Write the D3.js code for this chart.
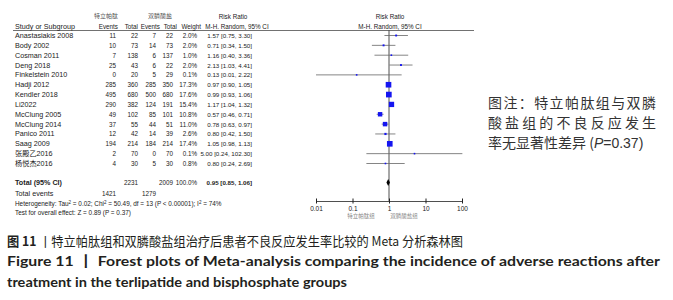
<!DOCTYPE html>
<html lang="zh">
<head>
<meta charset="UTF-8">
<title>Forest plot - adverse reactions</title>
<script src="https://d3js.org/d3.v7.min.js"></script>
<style>
    body { margin: 0; background: #fff; }
    svg { display: block; }
    .tbl { font-family: "Liberation Sans", Arial, "Noto Sans CJK SC", sans-serif; font-size: 6.3px; fill: #222; }
    .name { font-size: 7.2px; }
    .ci { font-size: 6.2px; }
    .small { font-size: 6.4px; }
    .cjk { font-family: "Noto Sans CJK SC", sans-serif; }
</style>
</head>
<body>
<script>
    // study rows
    const studies = ["Anastasiakis 2008", "Body 2002", "Cosman 2011", "Deng 2018", "Finkelstein 2010",
        "Hadji 2012", "Kendler 2018", "Li2022", "McClung 2005", "McClung 2014", "Panico 2011",
        "Saag 2009", "张殿乙2016", "杨悦杰2016"];
    const tEvents = [11, 10, 7, 25, 0, 285, 495, 290, 49, 37, 12, 194, 2, 4];
    const tTotal = [22, 73, 138, 43, 20, 360, 680, 382, 102, 55, 42, 214, 70, 30];
    const bEvents = [7, 14, 6, 6, 5, 285, 500, 124, 85, 44, 14, 184, 0, 5];
    const bTotal = [22, 73, 137, 22, 29, 350, 680, 191, 101, 51, 39, 214, 70, 30];
    const weights = [2.0, 2.0, 1.0, 2.0, 0.1, 17.3, 17.6, 15.4, 10.8, 11.0, 2.6, 17.4, 0.1, 0.8];
    const rr = [1.57, 0.71, 1.16, 2.13, 0.13, 0.97, 0.99, 1.17, 0.57, 0.78, 0.80, 1.05, 5.00, 0.80];
    const ciLo = [0.75, 0.34, 0.40, 1.03, 0.01, 0.90, 0.93, 1.04, 0.46, 0.63, 0.42, 0.98, 0.24, 0.24];
    const ciHi = [3.30, 1.50, 3.36, 4.41, 2.22, 1.05, 1.06, 1.32, 0.71, 0.97, 1.50, 1.13, 102.30, 2.69];

    // pooled result
    const total = {tTotal: 2231, bTotal: 2009, tEvents: 1421, bEvents: 1279, rr: 0.95, lo: 0.85, hi: 1.06};
    const tickValues = [0.01, 0.1, 1, 10, 100];

    const svg = d3.select("body").append("svg")
        .attr("width", 673)
        .attr("height", 300);

    const rowY = d3.scalePoint().domain(d3.range(studies.length)).range([35.5, 163.5]);
    const x = d3.scaleLog().domain([0.01, 100]).range([316, 462]);
    const fmt = d3.format(".2f");
    const ciText = (r, l, h) => fmt(r) + " [" + fmt(l) + ", " + fmt(h) + "]";

    // column right edges for numbers
    const colX = {e1: 116, t1: 138, e2: 156, t2: 173, w: 197, ci: 252};

    const tbl = svg.append("g").attr("class", "tbl");

    // group headers
    tbl.append("text").attr("class", "cjk").attr("x", 106).attr("y", 17.5)
        .attr("text-anchor", "middle").style("font-size", "6px").style("fill", "#555").text("特立帕肽");
    tbl.append("text").attr("class", "cjk").attr("x", 160).attr("y", 17.5)
        .attr("text-anchor", "middle").style("font-size", "6px").style("fill", "#555").text("双膦酸盐");
    tbl.append("text").attr("x", 233).attr("y", 19).attr("text-anchor", "middle").text("Risk Ratio");
    tbl.append("text").attr("x", 390).attr("y", 19).attr("text-anchor", "middle").text("Risk Ratio");

    // column headers
    const heads = [
        {t: "Study or Subgroup", x: 15, a: "start", c: "name"},
        {t: "Events", x: 118, a: "end"},
        {t: "Total", x: 138, a: "end"},
        {t: "Events", x: 160, a: "end"},
        {t: "Total", x: 177, a: "end"},
        {t: "Weight", x: 201, a: "end"},
        {t: "M-H. Random, 95% CI", x: 237, a: "middle"},
        {t: "M-H. Random, 95% CI", x: 390, a: "middle"}
    ];
    tbl.selectAll("text.head").data(heads).join("text")
        .attr("class", d => "head " + (d.c || ""))
        .attr("x", d => d.x).attr("y", 29)
        .attr("text-anchor", d => d.a)
        .text(d => d.t);
    svg.append("line").attr("x1", 13).attr("x2", 474).attr("y1", 30.5).attr("y2", 30.5)
        .attr("stroke", "#333").attr("stroke-width", 0.7);

    // study rows
    const rows = tbl.selectAll("g.row").data(studies).join("g")
        .attr("class", "row")
        .attr("transform", (d, i) => "translate(0," + (rowY(i) + 2.5) + ")");
    rows.append("text").attr("class", "name").attr("x", 15).text(d => d);
    rows.append("text").attr("x", colX.e1).attr("text-anchor", "end").text((d, i) => tEvents[i]);
    rows.append("text").attr("x", colX.t1).attr("text-anchor", "end").text((d, i) => tTotal[i]);
    rows.append("text").attr("x", colX.e2).attr("text-anchor", "end").text((d, i) => bEvents[i]);
    rows.append("text").attr("x", colX.t2).attr("text-anchor", "end").text((d, i) => bTotal[i]);
    rows.append("text").attr("x", colX.w).attr("text-anchor", "end").text((d, i) => weights[i].toFixed(1) + "%");
    rows.append("text").attr("class", "ci").attr("x", colX.ci).attr("text-anchor", "end").text((d, i) => ciText(rr[i], ciLo[i], ciHi[i]));

    // totals
    const yTot = 182.5;
    const tg = tbl.append("g").attr("transform", "translate(0," + (yTot + 2.5) + ")");
    tg.append("text").attr("class", "name").attr("x", 15).style("font-weight", "bold").text("Total (95% CI)");
    tg.append("text").attr("x", colX.t1).attr("text-anchor", "end").text(total.tTotal);
    tg.append("text").attr("x", colX.t2).attr("text-anchor", "end").text(total.bTotal);
    tg.append("text").attr("x", colX.w).attr("text-anchor", "end").text("100.0%");
    tg.append("text").attr("class", "ci").attr("x", colX.ci).attr("text-anchor", "end").style("font-weight", "bold")
        .text(ciText(total.rr, total.lo, total.hi));

    const te = tbl.append("g").attr("transform", "translate(0,195.5)");
    te.append("text").attr("class", "name").attr("x", 15).text("Total events");
    te.append("text").attr("x", colX.e1).attr("text-anchor", "end").text(total.tEvents);
    te.append("text").attr("x", colX.e2).attr("text-anchor", "end").text(total.bEvents);

    const het = tbl.append("text").attr("class", "small").attr("x", 15).attr("y", 205.5);
    het.append("tspan").text("Heterogeneity: Tau");
    het.append("tspan").attr("dy", -2).style("font-size", "4.5px").text("2");
    het.append("tspan").attr("dy", 2).text(" = 0.02; Chi");
    het.append("tspan").attr("dy", -2).style("font-size", "4.5px").text("2");
    het.append("tspan").attr("dy", 2).text(" = 50.49, df = 13 (P < 0.00001); I");
    het.append("tspan").attr("dy", -2).style("font-size", "4.5px").text("2");
    het.append("tspan").attr("dy", 2).text(" = 74%");
    tbl.append("text").attr("class", "small").attr("x", 15).attr("y", 214.5)
        .text("Test for overall effect: Z = 0.89 (P = 0.37)");

    // forest plot
    const plot = svg.append("g");
    plot.append("line").attr("x1", x(1)).attr("x2", x(1)).attr("y1", 30.5).attr("y2", 201)
        .attr("stroke", "#222").attr("stroke-width", 0.8);

    plot.selectAll("line.ciline").data(studies).join("line")
        .attr("class", "ciline")
        .attr("x1", (d, i) => x(Math.max(ciLo[i], 0.01)))
        .attr("x2", (d, i) => x(ciHi[i]))
        .attr("y1", (d, i) => rowY(i)).attr("y2", (d, i) => rowY(i))
        .attr("stroke", "#666").attr("stroke-width", 0.8);

    plot.selectAll("rect.sq").data(studies).join("rect")
        .attr("class", "sq")
        .each(function(d, i) {
            const s = Math.max(1.6, Math.sqrt(weights[i]) * 1.35);
            d3.select(this)
                .attr("x", x(rr[i]) - s / 2).attr("y", rowY(i) - s / 2)
                .attr("width", s).attr("height", s);
        })
        .attr("fill", "#1515f0");

    plot.append("polygon")
        .attr("points", [[x(total.lo), yTot], [x(total.rr), yTot - 3.5], [x(total.hi), yTot], [x(total.rr), yTot + 3.5]].join(" "))
        .attr("fill", "#000");

    // log axis
    const ax = plot.append("g")
        .attr("transform", "translate(0,201)")
        .call(d3.axisBottom(x).tickValues(tickValues).tickFormat(d => String(d)).tickSizeOuter(0).tickSizeInner(3).tickPadding(3));
    ax.select(".domain").attr("stroke", "#222").attr("stroke-width", 0.8);
    ax.selectAll(".tick line").attr("y1", -2.5).attr("y2", 2.5).attr("stroke", "#222");
    ax.selectAll(".tick text").attr("y", 5).attr("dy", "0.71em")
        .style("font-family", "Liberation Sans, Arial, sans-serif").style("font-size", "6.5px").style("fill", "#222");

    plot.append("text").attr("class", "cjk").attr("x", 361).attr("y", 217.5).attr("text-anchor", "middle")
        .style("font-size", "5.5px").style("fill", "#888").text("特立帕肽组");
    plot.append("text").attr("class", "cjk").attr("x", 404).attr("y", 217.5).attr("text-anchor", "middle")
        .style("font-size", "5.5px").style("fill", "#888").text("双膦酸盐组");

    // note beside the plot
    const noteLines = ["图注：特立帕肽组与双膦", "酸盐组的不良反应发生"];
    const note = svg.append("g").attr("class", "cjk").style("font-size", "14px").style("fill", "#333");
    note.selectAll("text.nl").data(noteLines).join("text")
        .attr("class", "nl")
        .attr("x", 488).attr("y", (d, i) => 108 + i * 20)
        .attr("textLength", 168).attr("lengthAdjust", "spacing")
        .text(d => d);
    const n3 = note.append("text").attr("x", 488).attr("y", 148);
    n3.append("tspan").text("率无显著性差异 (");
    n3.append("tspan").style("font-style", "italic").style("font-family", "Liberation Sans, Arial").text("P");
    n3.append("tspan").style("font-family", "Liberation Sans, Arial").text("=0.37)");

    // caption
    const cap1 = svg.append("text").attr("class", "cjk").attr("x", 7).attr("y", 246)
        .style("font-size", "13px").style("fill", "#231f20")
        .attr("textLength", 456).attr("lengthAdjust", "spacingAndGlyphs");
    cap1.append("tspan").style("font-weight", "bold").text("图 11 ");
    cap1.append("tspan").text("丨特立帕肽组和双膦酸盐组治疗后患者不良反应发生率比较的 Meta 分析森林图");

    svg.append("text").attr("x", 7).attr("y", 266)
        .style("font-family", "Lato, sans-serif").style("font-weight", "bold").style("font-size", "13.5px").style("fill", "#231f20")
        .attr("textLength", 653).attr("lengthAdjust", "spacingAndGlyphs")
        .text("Figure 11 丨 Forest plots of Meta-analysis comparing the incidence of adverse reactions after");
    svg.append("text").attr("x", 7).attr("y", 287)
        .style("font-family", "Lato, sans-serif").style("font-weight", "bold").style("font-size", "13.5px").style("fill", "#231f20")
        .attr("textLength", 340).attr("lengthAdjust", "spacingAndGlyphs")
        .text("treatment in the terlipatide and bisphosphate groups");
</script>
</body>
</html>
